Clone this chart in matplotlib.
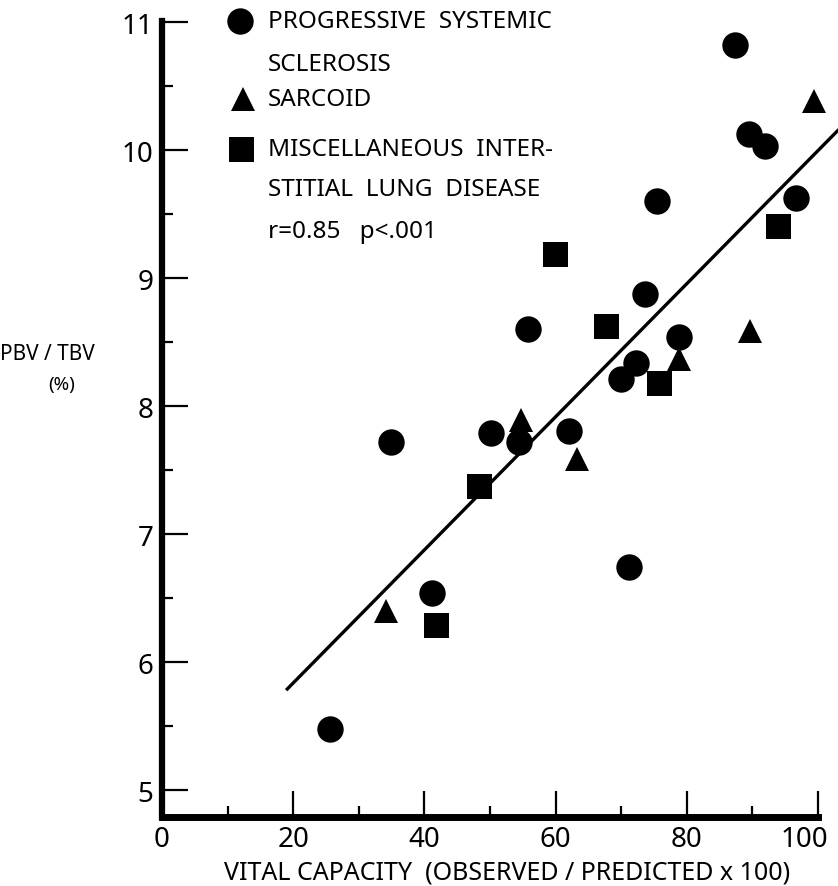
import matplotlib
matplotlib.use('Agg')
import matplotlib.pyplot as plt
from matplotlib.ticker import MultipleLocator
from matplotlib.transforms import ScaledTranslation

plt.rcParams['font.family'] = ['Noto Sans', 'DejaVu Sans']

# progressive systemic sclerosis (circles)
pss_x = [25.6, 34.9, 41.2, 50.2, 54.4, 55.8, 62.1, 69.9, 71.2, 72.3, 73.7, 75.5, 78.8, 87.3, 89.5, 91.9, 96.7]
pss_y = [5.48, 7.72, 6.54, 7.79, 7.72, 8.60, 7.81, 8.21, 6.74, 8.34, 8.875, 9.60, 8.54, 10.82, 10.125, 10.03, 9.625]
# sarcoid (triangles)
sarc_x = [34.2, 54.8, 63.2, 78.8, 89.7, 99.4]
sarc_y = [6.40, 7.89, 7.59, 8.37, 8.59, 10.385]
# miscellaneous interstitial lung disease (squares)
misc_x = [41.7, 48.4, 59.9, 67.7, 75.8, 93.9]
misc_y = [6.29, 7.38, 9.19, 8.63, 8.18, 9.41]

# regression line
fit_x = [19.1, 103.0]
fit_intercept = 4.797
fit_slope = 0.052

x_ticks = [0, 20, 40, 60, 80, 100]
y_ticks = [5, 6, 7, 8, 9, 10, 11]

fig = plt.figure(figsize=(8.38, 8.87), dpi=100)
ax = fig.add_axes([0.1933, 0.0778, 0.7828, 0.8974])
ax.set_xlim(0, 100)
ax.set_ylim(4.79, 11.01)

fit_y = [fit_intercept + fit_slope * v for v in fit_x]
ax.plot(fit_x, fit_y, color='black', lw=2.4, clip_on=False)

ax.plot(pss_x, pss_y, 'o', color='black', ms=19, mew=0, clip_on=False)
ax.plot(sarc_x, sarc_y, '^', color='black', ms=17, mew=0, clip_on=False)
ax.plot(misc_x, misc_y, 's', color='black', ms=18, mew=0, clip_on=False)

for s in ['top', 'right']:
    ax.spines[s].set_visible(False)
ax.spines['left'].set_linewidth(4.5)
ax.spines['bottom'].set_linewidth(5)

ax.set_xticks(x_ticks)
ax.set_yticks(y_ticks)
ax.xaxis.set_minor_locator(MultipleLocator(10))
ax.yaxis.set_minor_locator(MultipleLocator(0.5))
ax.tick_params(which='major', direction='in', length=19, width=1.6, pad=6)
ax.tick_params(which='minor', direction='in', length=8, width=1.6)
for lab in ax.get_xticklabels() + ax.get_yticklabels():
    lab.set_fontsize(20)

# the last x label sits a bit left of its tick, as in the original
last = ax.get_xticklabels()[-1]
last.set_transform(last.get_transform() + ScaledTranslation(-10 / 72, 0, fig.dpi_scale_trans))

fig.text(0.605, 0.0158, 'VITAL CAPACITY  (OBSERVED / PREDICTED x 100)',
         fontsize=18, ha='center', va='center')
fig.text(0.056, 0.600, 'PBV / TBV', fontsize=15, ha='center', va='center')
fig.text(0.074, 0.566, '(%)', fontsize=13.5, ha='center', va='center')

# key
tr = ax.transAxes
ax.plot([0.119], [1.0], 'o', color='black', ms=19, mew=0, transform=tr, clip_on=False)
ax.plot([0.124], [0.902], '^', color='black', ms=17, mew=0, transform=tr, clip_on=False)
ax.plot([0.120], [0.8392], 's', color='black', ms=18, mew=0, transform=tr, clip_on=False)
kw = dict(transform=tr, fontsize=17.5, ha='left', va='center')
ax.text(0.162, 1.0, 'PROGRESSIVE  SYSTEMIC', **kw)
ax.text(0.162, 0.9455, 'SCLEROSIS', **kw)
ax.text(0.162, 0.902, 'SARCOID', **kw)
ax.text(0.162, 0.8392, 'MISCELLANEOUS  INTER-', **kw)
ax.text(0.162, 0.789, 'STITIAL  LUNG  DISEASE', **kw)
ax.text(0.162, 0.736, 'r=0.85   p<.001', **kw)

fig.savefig('out.png', dpi=100)
